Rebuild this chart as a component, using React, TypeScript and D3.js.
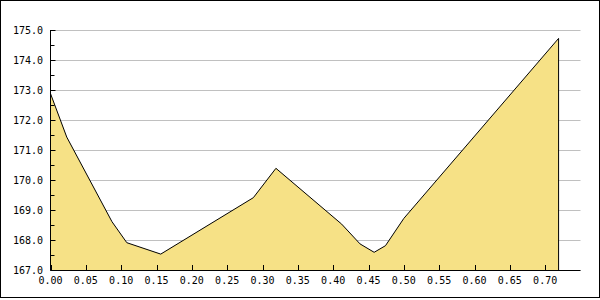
import React from "react";
import * as d3 from "d3";

const xValues = [0.0, 0.023, 0.087, 0.108, 0.156, 0.287, 0.319, 0.412, 0.438, 0.458, 0.474, 0.5, 0.719];
const yValues = [172.88, 171.43, 168.61, 167.91, 167.53, 169.41, 170.39, 168.53, 167.87, 167.59, 167.81, 168.72, 174.72];
const yMajorTicks = [167, 168, 169, 170, 171, 172, 173, 174, 175];
const yMinorTicks = [167.5, 168.5, 169.5, 170.5, 171.5, 172.5, 173.5, 174.5];
const xTicks = [0, 0.05, 0.1, 0.15, 0.2, 0.25, 0.3, 0.35, 0.4, 0.45, 0.5, 0.55, 0.6, 0.65, 0.7];

export default function App() {
  const W = 600, H = 300;
  const left = 50.5, right = 580.5, top = 30, bottom = 270;
  const x = d3.scaleLinear().domain([0, 0.75]).range([left, right]);
  const y = d3.scaleLinear().domain([167, 175]).range([bottom, top]);
  const data = xValues.map((v, i) => [v, yValues[i]] as [number, number]);
  const area = d3.area<[number, number]>().x(d => x(d[0])).y0(y(167)).y1(d => y(d[1]));
  const line = d3.line<[number, number]>().x(d => x(d[0])).y(d => y(d[1]));
  const lastX = x(xValues[xValues.length - 1]);
  const font = "'DejaVu Sans Mono', monospace";
  return (
    <svg width={W} height={H} style={{ position: "absolute", left: 0, top: 0, background: "#fff" }}>
      <rect x={0.5} y={0.5} width={599} height={297} fill="#fff" stroke="#000" />
      {yMajorTicks.map(t => (
        <line key={"g" + t} x1={left} x2={right} y1={Math.round(y(t)) + 0.5} y2={Math.round(y(t)) + 0.5} stroke="#c0c0c0" />
      ))}
      <path d={area(data) || ""} fill="#f6e186" />
      <path d={line(data) || ""} fill="none" stroke="#000" />
      <line x1={lastX} x2={lastX} y1={y(yValues[yValues.length - 1])} y2={bottom} stroke="#000" />
      <line x1={left} x2={left} y1={top} y2={bottom + 0.5} stroke="#000" />
      <line x1={left} x2={right} y1={bottom + 0.5} y2={bottom + 0.5} stroke="#000" />
      {yMajorTicks.map(t => (
        <g key={"y" + t}>
          <line x1={left} x2={left + 5} y1={Math.round(y(t)) + 0.5} y2={Math.round(y(t)) + 0.5} stroke="#000" />
          <text x={43} y={y(t) + 4} textAnchor="end" fontFamily={font} fontSize={10} fill="#000">
            {t.toFixed(1)}
          </text>
        </g>
      ))}
      {yMinorTicks.map(t => (
        <line key={"m" + t} x1={left} x2={left + 4} y1={Math.round(y(t)) + 0.5} y2={Math.round(y(t)) + 0.5} stroke="#000" />
      ))}
      {xTicks.map(t => (
        <g key={"x" + t}>
          <line x1={Math.round(x(t)) + 0.5} x2={Math.round(x(t)) + 0.5} y1={bottom} y2={bottom - 5} stroke="#000" />
          <text x={x(t)} y={284} textAnchor="middle" fontFamily={font} fontSize={10} fill="#000">
            {t.toFixed(2)}
          </text>
        </g>
      ))}
    </svg>
  );
}
